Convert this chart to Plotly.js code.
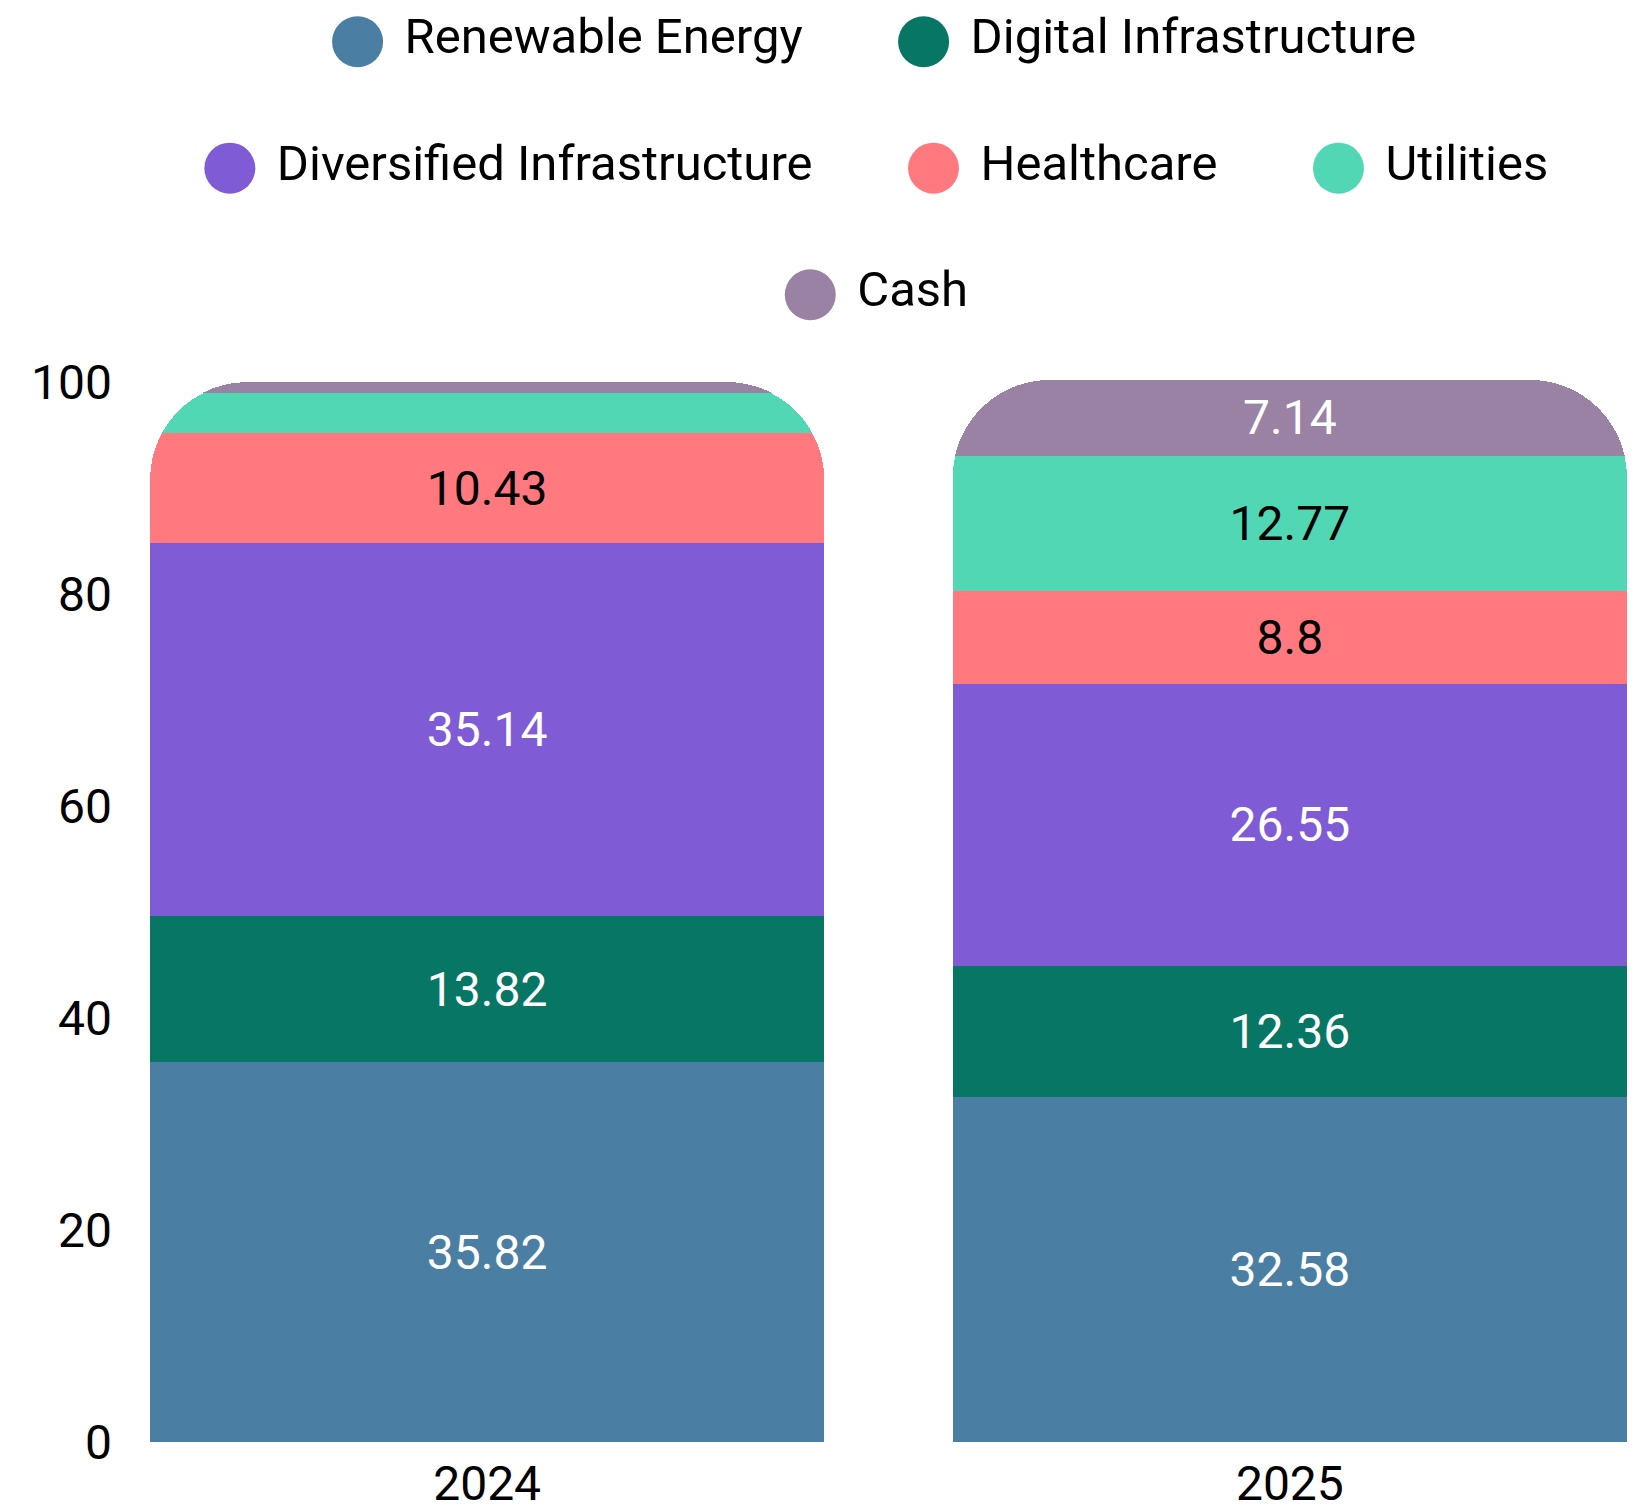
<!DOCTYPE html>
<html>
<head>
<meta charset="utf-8">
<script src="https://cdn.plot.ly/plotly-3.0.1.min.js"></script>
<style>
  html, body { margin: 0; padding: 0; background: #ffffff; }
  #chart { width: 1649px; height: 1507px; }
</style>
</head>
<body>
<div id="chart"></div>
<script>
// ---- data ----
const years = ['2024', '2025'];
const renewableEnergy = [35.82, 32.58];
const digitalInfrastructure = [13.82, 12.36];
const diversifiedInfrastructure = [35.14, 26.55];
const healthcare = [10.43, 8.8];
const utilities = [3.79, 12.77];
const cash = [1.0, 7.14];

const seriesNames = ['Renewable Energy', 'Digital Infrastructure', 'Diversified Infrastructure', 'Healthcare', 'Utilities', 'Cash'];
const seriesValues = [renewableEnergy, digitalInfrastructure, diversifiedInfrastructure, healthcare, utilities, cash];
const seriesColors = ['#4a7ea3', '#087664', '#805bd6', '#ff797e', '#52d7b4', '#9a82a5'];
const labelColors = ['#ffffff', '#ffffff', '#ffffff', '#000000', '#000000', '#ffffff'];
const legendIds = ['legend', 'legend', 'legend2', 'legend2', 'legend2', 'legend3'];

const FONT = 'Roboto, "Liberation Sans", sans-serif';

const traces = seriesNames.map((name, i) => ({
  type: 'bar',
  name: name,
  x: years,
  y: seriesValues[i],
  legend: legendIds[i],
  marker: { color: seriesColors[i], line: { width: 0 } },
  texttemplate: '%{y}',
  textposition: 'inside',
  insidetextanchor: 'middle',
  textangle: 0,
  textfont: { family: FONT, size: 48, color: labelColors[i] },
  hoverinfo: 'skip'
}));

const legendBase = {
  orientation: 'h',
  xref: 'paper', yref: 'paper',
  xanchor: 'left', yanchor: 'middle',
  bgcolor: 'rgba(0,0,0,0)',
  borderwidth: 0,
  itemwidth: 153,
  font: { family: FONT, size: 49, color: '#000000' },
  traceorder: 'normal'
};

const layout = {
  width: 1649,
  height: 1507,
  paper_bgcolor: '#ffffff',
  plot_bgcolor: '#ffffff',
  margin: { l: 150, r: 22, t: 380, b: 65, autoexpand: false },
  barmode: 'stack',
  bargap: 0.16,
  barcornerradius: 97,
  uniformtext: { mode: 'hide', minsize: 48 },
  font: { family: FONT, size: 48, color: '#000000' },
  xaxis: {
    type: 'category',
    range: [-0.42, 1.42],
    showgrid: false, zeroline: false, showline: false, ticks: '',
    tickfont: { family: FONT, size: 48, color: '#000000' },
    ticklabelstandoff: 9
  },
  yaxis: {
    range: [0, 100.2],
    dtick: 20,
    showgrid: false, zeroline: false, showline: false, ticks: '',
    tickfont: { family: FONT, size: 48, color: '#000000' },
    ticklabelstandoff: 37
  },
  showlegend: true,
  legend: Object.assign({}, legendBase, { x: 0.062, y: 1.3255 }),
  legend2: Object.assign({}, legendBase, { x: -0.0245, y: 1.2065 }),
  legend3: Object.assign({}, legendBase, { x: 0.3685, y: 1.0873 })
};

const gd = document.getElementById('chart');

// Replace the small legend swatches with large round markers placed beside each label.
function roundLegendSymbols() {
  const R = 25.5;
  const circle = `M${R},0A${R},${R} 0 1,1 0,-${R}A${R},${R} 0 0,1 ${R},0Z`;
  gd.querySelectorAll('.infolayer g.traces').forEach(item => {
    const txt = item.querySelector('text');
    const pts = item.querySelector('g.legendpoints');
    if (!txt || !pts) return;
    const sym = pts.querySelector('path');
    if (!sym) return;
    sym.setAttribute('d', circle);
    sym.style.strokeWidth = '0px';
    sym.setAttribute('transform', 'translate(0,0)');
    const pr = sym.getBoundingClientRect();
    const tr = txt.getBoundingClientRect();
    const cx = (pr.left + pr.right) / 2, cy = (pr.top + pr.bottom) / 2;
    const dx = tr.left - 47 - cx;
    const dy = (tr.top + tr.bottom) / 2 + 5 - cy;
    sym.setAttribute('transform', `translate(${dx},${dy})`);
  });
}

Plotly.newPlot(gd, traces, layout, { displayModeBar: false, staticPlot: true })
  .then(() => {
    roundLegendSymbols();
    setTimeout(roundLegendSymbols, 100);
  });
</script>
</body>
</html>
